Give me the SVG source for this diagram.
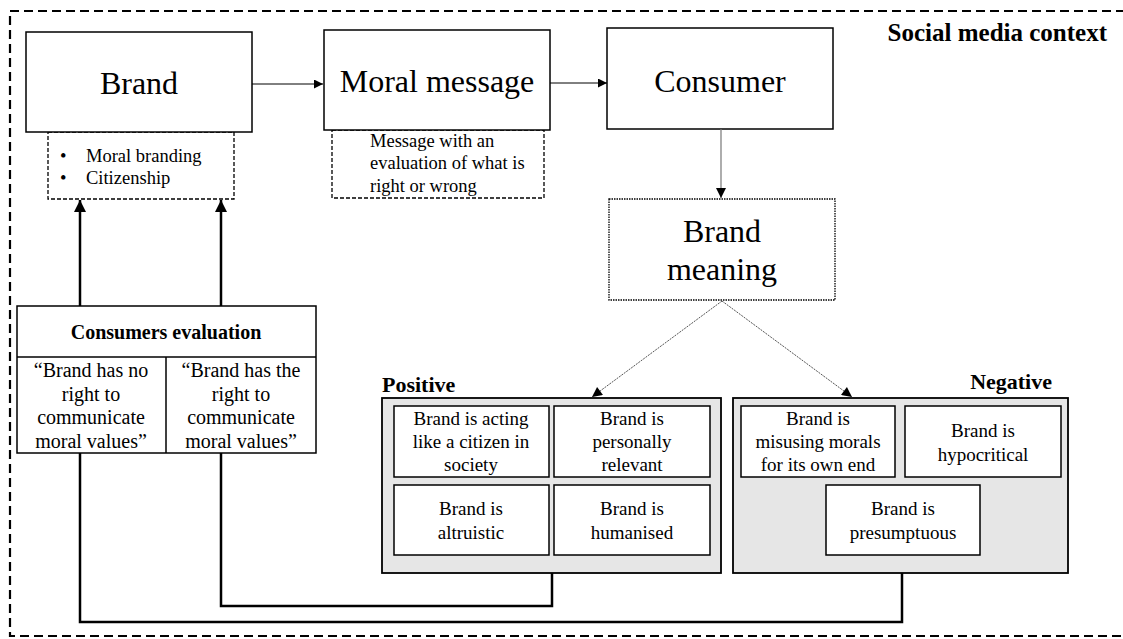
<svg xmlns="http://www.w3.org/2000/svg" width="1123" height="639" viewBox="0 0 1123 639">
<style>
text{font-family:"Liberation Serif","Times New Roman",serif;fill:#000}
.big{font-size:32px;text-anchor:middle}
.sm{font-size:18.5px}
.mid{font-size:19px;text-anchor:middle}
.q{font-size:20px;text-anchor:middle}
.b{font-weight:bold}
.box{fill:#fff;stroke:#000;stroke-width:1.5}
.dash{fill:#fff;stroke:#000;stroke-width:1.3;stroke-dasharray:4 2}
.grey{fill:#e6e6e6;stroke:#000;stroke-width:1.8}
.inner{fill:#fff;stroke:#000;stroke-width:1.5}
.thick{fill:none;stroke:#000;stroke-width:2.5}
.thin{fill:none;stroke:#000;stroke-width:1}
</style>
<defs>
<marker id="ah" viewBox="0 0 10 10" refX="10" refY="5" markerWidth="10" markerHeight="9" markerUnits="userSpaceOnUse" orient="auto"><path d="M0,0L10,5L0,10z" fill="#000"/></marker>
<marker id="ahg" viewBox="0 0 10 10" refX="10" refY="5" markerWidth="12" markerHeight="10" markerUnits="userSpaceOnUse" orient="auto"><path d="M0,0L10,5L0,10z" fill="#000"/></marker>
<marker id="ahb" viewBox="0 0 10 10" refX="10" refY="5" markerWidth="14" markerHeight="12" markerUnits="userSpaceOnUse" orient="auto"><path d="M0,0L10,5L0,10z" fill="#000"/></marker>
</defs>
<rect id="context" x="10" y="11" width="1125" height="625" fill="none" stroke="#000" stroke-width="2.2" stroke-dasharray="9 5"/>
<text x="1107" y="41" class="b" style="font-size:25px;text-anchor:end">Social media context</text>

<g id="brand-attr">
<rect x="48" y="132" width="186" height="67" class="dash"/>
<text x="60" y="162" class="sm">•</text><text x="86" y="162" class="sm">Moral branding</text>
<text x="60" y="184" class="sm">•</text><text x="86" y="184" class="sm">Citizenship</text>
</g>
<g id="brand"><rect x="26" y="32" width="226" height="100" class="box"/><text x="139" y="94" class="big">Brand</text></g>

<g id="message-attr">
<rect x="332" y="130" width="212" height="68" class="dash"/>
<text x="370" y="147" class="sm">Message with an</text>
<text x="370" y="169" class="sm">evaluation of what is</text>
<text x="370" y="192" class="sm">right  or wrong</text>
</g>
<g id="moral-message"><rect x="324" y="30" width="226" height="100" class="box"/><text x="437" y="92" class="big">Moral message</text></g>

<g id="consumer"><rect x="607" y="28" width="226" height="101" class="box"/><text x="720" y="92" class="big">Consumer</text></g>

<g id="brand-meaning"><rect x="609" y="199" width="226" height="101" fill="#fff" stroke="#000" stroke-width="1.3" stroke-dasharray="1.5 1"/>
<text x="722" y="242" class="big">Brand</text><text x="722" y="280" class="big">meaning</text></g>

<g id="consumers-evaluation">
<rect x="17" y="306" width="299" height="147" class="box"/>
<line x1="17" y1="357" x2="316" y2="357" stroke="#000" stroke-width="1.5"/>
<line x1="166" y1="357" x2="166" y2="453" stroke="#000" stroke-width="1.5"/>
<text x="166" y="339" class="b" style="font-size:20px;text-anchor:middle">Consumers evaluation</text>
<text x="91" y="377" class="q">“Brand has no</text>
<text x="91" y="401" class="q">right to</text>
<text x="91" y="424" class="q">communicate</text>
<text x="91" y="448" class="q">moral values”</text>
<text x="241" y="377" class="q">“Brand has the</text>
<text x="241" y="401" class="q">right to</text>
<text x="241" y="424" class="q">communicate</text>
<text x="241" y="448" class="q">moral values”</text>
</g>

<g id="positive">
<text x="382" y="392" class="b" style="font-size:22px">Positive</text>
<rect x="382" y="398" width="339" height="175" class="grey"/>
<rect x="394" y="406" width="155" height="71" class="inner"/>
<rect x="554" y="406" width="156" height="71" class="inner"/>
<rect x="394" y="485" width="155" height="70" class="inner"/>
<rect x="554" y="485" width="156" height="70" class="inner"/>
<text x="471" y="425" class="mid">Brand is acting</text>
<text x="471" y="448" class="mid">like a citizen in</text>
<text x="471" y="471" class="mid">society</text>
<text x="632" y="425" class="mid">Brand is</text>
<text x="632" y="448" class="mid">personally</text>
<text x="632" y="471" class="mid">relevant</text>
<text x="471" y="515" class="mid">Brand is</text>
<text x="471" y="539" class="mid">altruistic</text>
<text x="632" y="515" class="mid">Brand is</text>
<text x="632" y="539" class="mid">humanised</text>
</g>

<g id="negative">
<text x="1052" y="389" class="b" style="font-size:22px;text-anchor:end">Negative</text>
<rect x="733" y="398" width="335" height="175" class="grey"/>
<rect x="741" y="406" width="154" height="71" class="inner"/>
<rect x="905" y="406" width="156" height="71" class="inner"/>
<rect x="826" y="485" width="154" height="70" class="inner"/>
<text x="818" y="425" class="mid">Brand is</text>
<text x="818" y="448" class="mid">misusing morals</text>
<text x="818" y="471" class="mid">for its own end</text>
<text x="983" y="437" class="mid">Brand is</text>
<text x="983" y="461" class="mid">hypocritical</text>
<text x="903" y="515" class="mid">Brand is</text>
<text x="903" y="539" class="mid">presumptuous</text>
</g>

<g id="connectors">
<line x1="252" y1="84" x2="323" y2="84" class="thin" marker-end="url(#ah)"/>
<line x1="550" y1="83" x2="607" y2="83" class="thin" marker-end="url(#ah)"/>
<line x1="721" y1="129" x2="721" y2="198" stroke="#777" stroke-width="1.2" marker-end="url(#ahg)"/>
<line x1="722" y1="301" x2="592" y2="397" stroke="#555" stroke-width="1" stroke-dasharray="2 1" marker-end="url(#ahg)"/>
<line x1="722" y1="301" x2="852" y2="397" stroke="#555" stroke-width="1" stroke-dasharray="2 1" marker-end="url(#ahg)"/>
<line x1="80" y1="306" x2="80" y2="200" class="thick" marker-end="url(#ahb)"/>
<line x1="221" y1="306" x2="221" y2="200" class="thick" marker-end="url(#ahb)"/>
<polyline points="80,453 80,622 902,622 902,573" class="thick"/>
<polyline points="221,453 221,606 552,606 552,573" class="thick"/>
</g>
</svg>
